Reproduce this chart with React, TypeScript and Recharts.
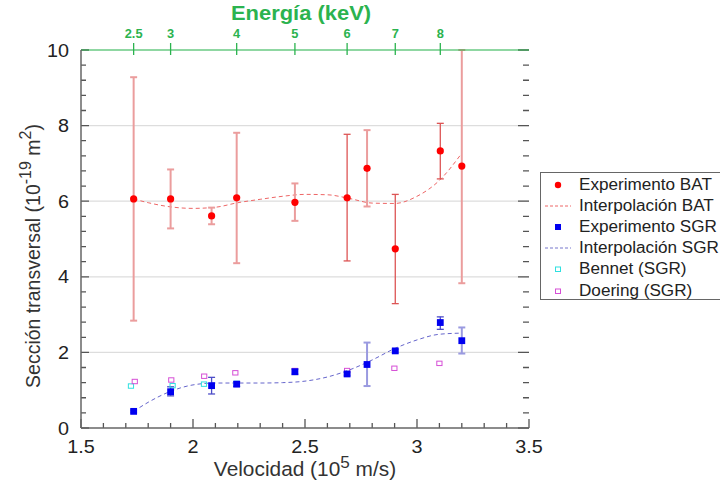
import React from 'react';
import {
    ComposedChart,
    XAxis,
    YAxis,
    Scatter,
    Line,
    ErrorBar,
    ReferenceLine,
} from 'recharts';

/* ============================
   Data
============================ */

// velocity (10^5 m/s) of every measured energy, shared by BAT and SGR
const expVelocity = [1.735, 1.9, 2.083, 2.195, 2.455, 2.688, 2.777, 2.903, 3.104, 3.2];

// Experimento BAT: cross section and lower / upper error limits (10^-19 m^2)
const batSigma = [6.06, 6.06, 5.61, 6.09, 5.97, 6.09, 6.87, 4.74, 7.33, 6.93];
const batLow = [2.84, 5.28, 5.39, 4.36, 5.48, 4.42, 5.86, 3.29, 6.59, 3.83];
const batHigh = [9.28, 6.84, 5.83, 7.81, 6.47, 7.77, 7.88, 6.18, 8.06, 10];

// Experimento SGR
const sgrSigma = [0.44, 0.96, 1.12, 1.16, 1.49, 1.43, 1.68, 2.04, 2.79, 2.31];
const sgrLow = [0.41, 0.85, 0.9, 1.1, 1.42, 1.39, 1.11, 2.0, 2.61, 1.97];
const sgrHigh = [0.47, 1.09, 1.34, 1.22, 1.56, 1.47, 2.26, 2.08, 2.94, 2.66];

// Bennet (SGR)
const bennetVelocity = [1.723, 1.909, 2.049, 2.195];
const bennetSigma = [1.11, 1.12, 1.16, 1.18];

// Doering (SGR)
const doeringVelocity = [1.74, 1.903, 2.05, 2.189, 2.455, 2.688, 2.899, 3.1];
const doeringSigma = [1.23, 1.27, 1.37, 1.46, 1.52, 1.52, 1.58, 1.71];

// interpolation curves, sampled along the velocity axis
const interpVelocity = [1.735, 1.8, 1.9, 2.0, 2.1, 2.2, 2.3, 2.4, 2.5, 2.6, 2.7, 2.8, 2.9, 3.0, 3.1, 3.2];
const interpBat = [6.06, 5.96, 5.85, 5.81, 5.84, 5.96, 6.05, 6.13, 6.18, 6.17, 6.07, 5.95, 5.94, 6.13, 6.55, 7.27];
const interpSgr = [0.44, 0.68, 0.97, 1.14, 1.19, 1.19, 1.19, 1.2, 1.24, 1.35, 1.54, 1.8, 2.1, 2.33, 2.48, 2.51];

// top axis: energy (keV) and the velocity each tick sits on
const energyLabels = ['2.5', '3', '4', '5', '6', '7', '8'];
const energyVelocity = [1.735, 1.9, 2.195, 2.455, 2.688, 2.903, 3.104];

const velocityTicks = [
    1.5, 1.6, 1.7, 1.8, 1.9, 2, 2.1, 2.2, 2.3, 2.4, 2.5,
    2.6, 2.7, 2.8, 2.9, 3, 3.1, 3.2, 3.3, 3.4, 3.5,
];
const velocityLabels = [1.5, 2, 2.5, 3, 3.5];
const sigmaTicks = [
    0, 0.4, 0.8, 1.2, 1.6, 2, 2.4, 2.8, 3.2, 3.6, 4, 4.4, 4.8,
    5.2, 5.6, 6, 6.4, 6.8, 7.2, 7.6, 8, 8.4, 8.8, 9.2, 9.6, 10,
];
const sigmaLabels = [0, 2, 4, 6, 8, 10];
const gridValues = [2, 4, 6, 8];

/* ============================
   Styles
============================ */

const FONT = '"Liberation Sans", Arial, Helvetica, sans-serif';
const STRETCH = 1.07;
const GREEN = '#2bb34f';
const AXIS = '#666';
const TICK = '#555';
const TEXT = '#222';

// error bars drawn in the stronger shade
const DARK_BAT_BARS = [5, 7, 8];
const DARK_SGR_BARS = [1, 2, 3, 8];

const MARGIN = { top: 10, right: 191, bottom: 20, left: 21 };

/* ============================
   Rows
============================ */

const withErr = (sigma: number[], low: number[], high: number[]) =>
    expVelocity.map((v, i) => ({
        v,
        s: sigma[i],
        err: [sigma[i] - low[i], high[i] - sigma[i]],
        i,
    }));

const batRows = withErr(batSigma, batLow, batHigh);
const sgrRows = withErr(sgrSigma, sgrLow, sgrHigh);
const batDark = batRows.filter(r => DARK_BAT_BARS.includes(r.i));
const batLight = batRows.filter(r => !DARK_BAT_BARS.includes(r.i));
const sgrDark = sgrRows.filter(r => DARK_SGR_BARS.includes(r.i));
const sgrLight = sgrRows.filter(r => !DARK_SGR_BARS.includes(r.i));

const bennetRows = bennetVelocity.map((v, i) => ({ v, s: bennetSigma[i] }));
const doeringRows = doeringVelocity.map((v, i) => ({ v, s: doeringSigma[i] }));
const batCurve = interpVelocity.map((v, i) => ({ v, s: interpBat[i] }));
const sgrCurve = interpVelocity.map((v, i) => ({ v, s: interpSgr[i] }));

/* ============================
   Shapes
============================ */

const Dot = (p: any) => <circle cx={p.cx} cy={p.cy} r={3.6} fill="#ff0000" />;
const Square = (p: any) => (
    <rect x={p.cx - 3.4} y={p.cy - 3.4} width={6.8} height={6.8} fill="#0000f0" />
);
const openSquare = (color: string) => (p: any) => (
    <rect x={p.cx - 2.6} y={p.cy - 2.2} width={5.2} height={4.4} fill="none" stroke={color} strokeWidth={1} />
);

type TxtProps = {
    x: number;
    y: number;
    size: number;
    anchor?: 'start' | 'middle' | 'end';
    weight?: string | number;
    fill?: string;
    children: React.ReactNode;
};

const Txt = ({ x, y, size, anchor = 'middle', weight = 'normal', fill = TEXT, children }: TxtProps) => (
    <text
        transform={`translate(${x},${y}) scale(${STRETCH},1)`}
        textAnchor={anchor}
        fontSize={size}
        fontWeight={weight}
        fontFamily={FONT}
        fill={fill}
    >
        {children}
    </text>
);

/* ============================
   Tick labels (marks are drawn as short reference segments)
============================ */

const VelocityTick = ({ x, y, payload }: any) => (
    <Txt x={x} y={y + 25} size={18.5}>{payload.value}</Txt>
);

const EnergyTick = ({ x, y, index }: any) => (
    <Txt x={x} y={y - 12} size={12} weight="bold" fill={GREEN}>{energyLabels[index]}</Txt>
);

const SigmaTick = ({ x, y, payload }: any) => (
    <Txt x={x - 12} y={y + 6.5} size={18.5} anchor="end">{payload.value}</Txt>
);

// inward marks on the left and right frame edges
const sigmaMark = (value: number) => (p: any) => {
    const major = sigmaLabels.includes(value);
    const left = Math.min(p.x1, p.x2);
    const right = Math.max(p.x1, p.x2);
    const y = p.y1;
    return (
        <path
            d={`M${left},${y}H${left + (major ? 8 : 5)}M${right},${y}H${right - (major ? 11 : 6)}`}
            stroke={TICK}
            strokeWidth={1.3}
            fill="none"
        />
    );
};

// upward marks on the bottom frame edge
const velocityMark = (value: number) => (p: any) => {
    const major = velocityLabels.includes(value);
    const bottom = Math.max(p.y1, p.y2);
    return (
        <path d={`M${p.x1},${bottom}V${bottom - (major ? 9 : 5)}`} stroke={TICK} strokeWidth={1.3} fill="none" />
    );
};

// marks crossing the green energy axis
const energyMark = (p: any) => {
    const top = Math.min(p.y1, p.y2);
    return <path d={`M${p.x1},${top - 7}V${top + 5}`} stroke={GREEN} strokeWidth={1.3} fill="none" />;
};

/* ============================
   Axis titles
============================ */

const VelocityTitle = ({ viewBox }: any) => (
    <Txt x={viewBox.x + viewBox.width / 2} y={viewBox.y + 48} size={19.5} fill="#333">
        Velocidad (10
        <tspan dy={-8} fontSize={16}>5</tspan>
        <tspan dy={8}> m/s)</tspan>
    </Txt>
);

const EnergyTitle = ({ viewBox }: any) => (
    <Txt x={viewBox.x + viewBox.width / 2 - 4} y={20} size={20.5} weight="bold" fill={GREEN}>
        Energía (keV)
    </Txt>
);

const SigmaTitle = ({ viewBox }: any) => {
    const cx = viewBox.x + 19;
    const cy = viewBox.y + viewBox.height / 2 + 17;
    return (
        <text
            transform={`translate(${cx},${cy}) scale(${STRETCH},1) rotate(-90)`}
            textAnchor="middle"
            fontSize={19.5}
            fontFamily={FONT}
            fill="#333"
        >
            Sección transversal (10
            <tspan dy={-8} fontSize={16}>-19</tspan>
            <tspan dy={8}> m</tspan>
            <tspan dy={-8} fontSize={16}>2</tspan>
            <tspan dy={8}>)</tspan>
        </text>
    );
};

/* ============================
   Legend
============================ */

const legendItems = [
    { label: 'Experimento BAT', kind: 'dot' },
    { label: 'Interpolación BAT', kind: 'dashRed' },
    { label: 'Experimento SGR', kind: 'square' },
    { label: 'Interpolación SGR', kind: 'dashBlue' },
    { label: 'Bennet (SGR)', kind: 'cyan' },
    { label: 'Doering (SGR)', kind: 'magenta' },
];

const LegendSymbol = ({ kind }: { kind: string }) => (
    <svg width={30} height={20} style={{ display: 'block' }}>
        {kind === 'dot' && <circle cx={17} cy={10} r={3.2} fill="#ff0000" />}
        {kind === 'square' && <rect x={14} y={7} width={6} height={6} fill="#0000f0" />}
        {kind === 'dashRed' && <line x1={4} x2={30} y1={10} y2={10} stroke="#e66" strokeDasharray="3 2" />}
        {kind === 'dashBlue' && <line x1={4} x2={30} y1={10} y2={10} stroke="#77c" strokeDasharray="3 2" />}
        {kind === 'cyan' && <rect x={14.5} y={8} width={5} height={4.5} fill="none" stroke="#2ee0e0" />}
        {kind === 'magenta' && <rect x={14.5} y={8} width={5} height={4.5} fill="none" stroke="#d64fd6" />}
    </svg>
);

const ChartLegend = () => (
    <div
        style={{
            position: 'absolute',
            left: 540,
            top: 172,
            width: 200,
            height: 128,
            border: `1px solid ${AXIS}`,
            background: '#fff',
            paddingTop: 1,
            boxSizing: 'border-box',
        }}
    >
        {legendItems.map(item => (
            <div key={item.label} style={{ display: 'flex', alignItems: 'center', height: 21.2 }}>
                <LegendSymbol kind={item.kind} />
                <span
                    style={{
                        marginLeft: 8,
                        fontFamily: FONT,
                        fontSize: 16,
                        color: TEXT,
                        whiteSpace: 'nowrap',
                        display: 'inline-block',
                        transform: `scaleX(${STRETCH})`,
                        transformOrigin: 'left center',
                    }}
                >
                    {item.label}
                </span>
            </div>
        ))}
    </div>
);

/* ============================
   Component
============================ */

const App: React.FC = () => (
    <div style={{ position: 'absolute', left: 0, top: 0, width: 720, height: 488, background: '#fff', overflow: 'hidden' }}>
        <ComposedChart width={720} height={488} margin={MARGIN}>
            <XAxis
                xAxisId="bottom"
                dataKey="v"
                type="number"
                domain={[1.5, 3.5]}
                allowDataOverflow
                ticks={velocityLabels}
                interval={0}
                height={40}
                tickSize={0}
                tickMargin={0}
                tickLine={false}
                tick={<VelocityTick />}
                axisLine={{ stroke: AXIS, strokeWidth: 1.5 }}
                label={{ content: <VelocityTitle /> }}
            />
            <XAxis
                xAxisId="top"
                orientation="top"
                dataKey="v"
                type="number"
                domain={[1.5, 3.5]}
                allowDataOverflow
                ticks={energyVelocity}
                interval={0}
                height={40}
                tickSize={0}
                tickMargin={0}
                tickLine={false}
                tick={<EnergyTick />}
                axisLine={{ stroke: GREEN, strokeWidth: 1.5, strokeOpacity: 0.7 }}
                label={{ content: <EnergyTitle /> }}
            />
            <YAxis
                yAxisId="left"
                type="number"
                domain={[0, 10]}
                allowDataOverflow
                ticks={sigmaLabels}
                interval={0}
                width={60}
                tickSize={0}
                tickMargin={0}
                tickLine={false}
                tick={<SigmaTick />}
                axisLine={{ stroke: AXIS, strokeWidth: 1.5 }}
                label={{ content: <SigmaTitle /> }}
            />
            <YAxis
                yAxisId="right"
                orientation="right"
                type="number"
                domain={[0, 10]}
                allowDataOverflow
                width={0}
                tick={false}
                tickLine={false}
                axisLine={{ stroke: AXIS, strokeWidth: 1.5 }}
            />

            {gridValues.map(g => (
                <ReferenceLine
                    key={`grid-${g}`}
                    y={g}
                    xAxisId="bottom"
                    yAxisId="left"
                    stroke="#ddd"
                    strokeWidth={1.2}
                />
            ))}
            {sigmaTicks.map(t => (
                <ReferenceLine
                    key={`ytick-${t}`}
                    y={t}
                    xAxisId="bottom"
                    yAxisId="left"
                    ifOverflow="visible"
                    shape={sigmaMark(t)}
                />
            ))}
            {velocityTicks.map(t => (
                <ReferenceLine
                    key={`xtick-${t}`}
                    x={t}
                    xAxisId="bottom"
                    yAxisId="left"
                    ifOverflow="visible"
                    shape={velocityMark(t)}
                />
            ))}
            {energyVelocity.map(t => (
                <ReferenceLine
                    key={`etick-${t}`}
                    x={t}
                    xAxisId="bottom"
                    yAxisId="left"
                    ifOverflow="visible"
                    shape={energyMark}
                />
            ))}

            <Line
                data={batCurve}
                dataKey="s"
                xAxisId="bottom"
                yAxisId="left"
                type="monotone"
                stroke="#e66"
                strokeWidth={1}
                strokeDasharray="4 3"
                dot={false}
                activeDot={false}
                isAnimationActive={false}
            />
            <Line
                data={sgrCurve}
                dataKey="s"
                xAxisId="bottom"
                yAxisId="left"
                type="monotone"
                stroke="#66c"
                strokeWidth={1}
                strokeDasharray="4 3"
                dot={false}
                activeDot={false}
                isAnimationActive={false}
            />

            <Scatter data={bennetRows} dataKey="s" xAxisId="bottom" yAxisId="left" shape={openSquare('#2ee0e0')} isAnimationActive={false} />
            <Scatter data={doeringRows} dataKey="s" xAxisId="bottom" yAxisId="left" shape={openSquare('#d64fd6')} isAnimationActive={false} />

            <Scatter data={batLight} dataKey="s" xAxisId="bottom" yAxisId="left" shape={Dot} isAnimationActive={false}>
                <ErrorBar dataKey="err" direction="y" width={3.5} stroke="#eb9d9d" strokeWidth={2} isAnimationActive={false} />
            </Scatter>
            <Scatter data={batDark} dataKey="s" xAxisId="bottom" yAxisId="left" shape={Dot} isAnimationActive={false}>
                <ErrorBar dataKey="err" direction="y" width={3.5} stroke="#dd5555" strokeWidth={1.3} isAnimationActive={false} />
            </Scatter>
            <Scatter data={sgrLight} dataKey="s" xAxisId="bottom" yAxisId="left" shape={Square} isAnimationActive={false}>
                <ErrorBar dataKey="err" direction="y" width={3.5} stroke="#9a9ae0" strokeWidth={2} isAnimationActive={false} />
            </Scatter>
            <Scatter data={sgrDark} dataKey="s" xAxisId="bottom" yAxisId="left" shape={Square} isAnimationActive={false}>
                <ErrorBar dataKey="err" direction="y" width={3.5} stroke="#4d4dc8" strokeWidth={1.3} isAnimationActive={false} />
            </Scatter>
        </ComposedChart>
        <ChartLegend />
    </div>
);

export default App;
